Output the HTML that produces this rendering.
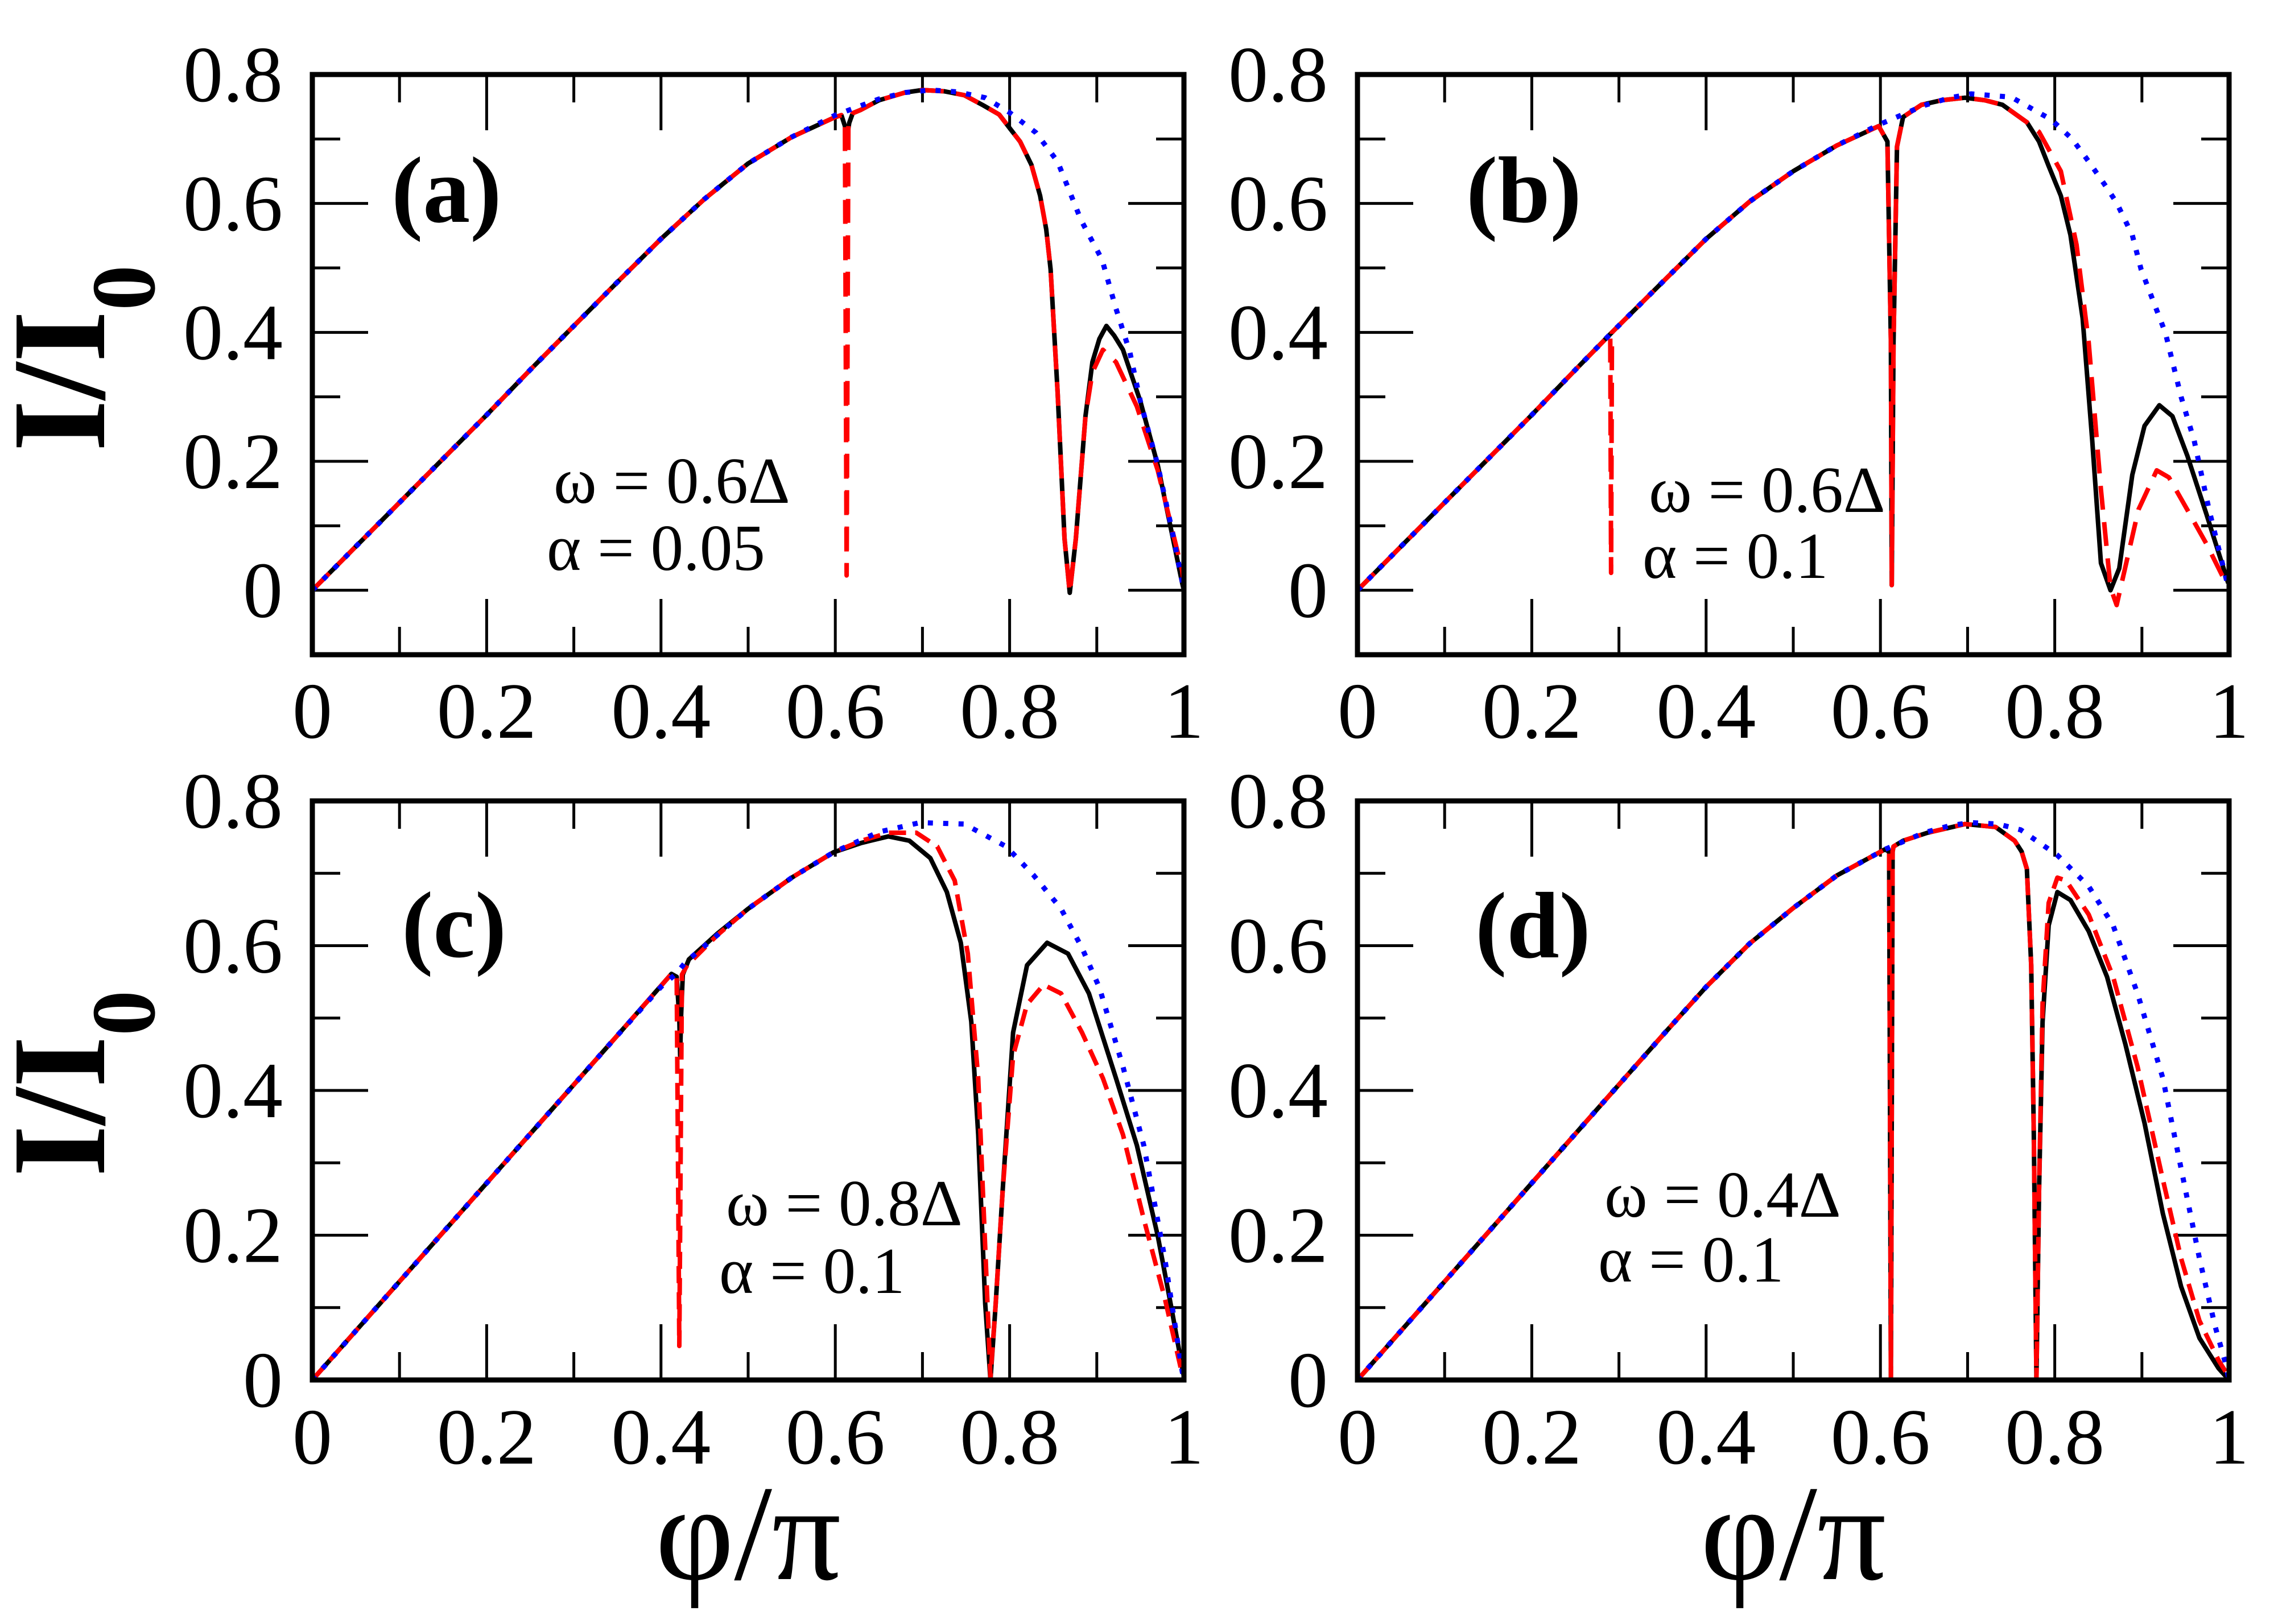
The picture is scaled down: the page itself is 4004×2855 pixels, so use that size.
<!DOCTYPE html>
<html><head><meta charset="utf-8"><style>
html,body{margin:0;padding:0;background:#fff;}
svg{display:block;}
text{font-family:"Liberation Serif","Times New Roman",serif;}
</style></head><body>
<svg id="fig" width="4004" height="2855" viewBox="0 0 4004 2855" xmlns="http://www.w3.org/2000/svg"></svg>
<script>
// ---------- data ----------
const xTickLabels = ["0","0.2","0.4","0.6","0.8","1"];
const xTickValues = [0,0.2,0.4,0.6,0.8,1];
const yTickLabels = ["0","0.2","0.4","0.6","0.8"];
const yTickValues = [0,0.2,0.4,0.6,0.8];

// panel (a)
const aBlueX = [0,0.05,0.1,0.15,0.2,0.25,0.3,0.35,0.4,0.45,0.5,0.55,0.6,0.65,0.68,0.709,0.74,0.772,0.8,0.83,0.855,0.882,0.906,0.922,0.938,0.95,0.97,0.986,1];
const aBlueY = [0,0.068,0.136,0.204,0.272,0.342,0.41,0.478,0.545,0.607,0.662,0.703,0.737,0.762,0.772,0.776,0.773,0.764,0.741,0.71,0.665,0.574,0.513,0.437,0.369,0.293,0.194,0.095,0];
const aBlackX = [0,0.05,0.1,0.15,0.2,0.25,0.3,0.35,0.4,0.45,0.5,0.55,0.6,0.607,0.611,0.613,0.616,0.62,0.629,0.65,0.68,0.7,0.725,0.748,0.77,0.788,0.812,0.825,0.835,0.842,0.847,0.855,0.863,0.869,0.876,0.887,0.895,0.903,0.911,0.92,0.93,0.95,0.97,0.998,1];
const aBlackY = [0,0.068,0.136,0.204,0.272,0.342,0.41,0.478,0.545,0.607,0.662,0.703,0.734,0.737,0.72,0.70,0.725,0.74,0.745,0.76,0.772,0.776,0.774,0.768,0.752,0.738,0.696,0.66,0.612,0.56,0.498,0.308,0.08,-0.004,0.08,0.27,0.354,0.39,0.41,0.395,0.373,0.293,0.194,0.011,0];
const aRedX = [0,0.05,0.1,0.15,0.2,0.25,0.3,0.35,0.4,0.45,0.5,0.55,0.6,0.607,0.611,0.613,0.615,0.62,0.629,0.65,0.68,0.7,0.725,0.748,0.77,0.788,0.812,0.825,0.835,0.842,0.847,0.855,0.863,0.869,0.876,0.887,0.895,0.907,0.922,0.946,0.97,0.998,1];
const aRedY = [0,0.068,0.136,0.204,0.272,0.342,0.41,0.478,0.545,0.607,0.662,0.703,0.734,0.737,0.72,0.023,0.725,0.74,0.745,0.76,0.772,0.776,0.774,0.768,0.752,0.738,0.696,0.66,0.612,0.56,0.498,0.308,0.08,-0.004,0.08,0.27,0.338,0.373,0.354,0.285,0.186,0.03,0.01];

// panel (b)
const bBlueX = [0,0.05,0.1,0.15,0.2,0.25,0.292,0.35,0.4,0.45,0.5,0.55,0.598,0.65,0.68,0.704,0.75,0.796,0.82,0.839,0.86,0.871,0.889,0.899,0.927,0.945,0.96,0.977,0.995,1];
const bBlueY = [0,0.068,0.136,0.204,0.272,0.342,0.4,0.478,0.545,0.603,0.65,0.69,0.722,0.752,0.764,0.77,0.765,0.73,0.7,0.665,0.624,0.601,0.551,0.498,0.399,0.3,0.232,0.125,0.027,0];
const bBlackX = [0,0.05,0.1,0.15,0.2,0.25,0.292,0.35,0.4,0.45,0.5,0.55,0.598,0.608,0.612,0.613,0.615,0.619,0.626,0.647,0.67,0.697,0.72,0.74,0.768,0.782,0.793,0.807,0.818,0.832,0.843,0.853,0.864,0.874,0.889,0.903,0.92,0.935,0.952,0.974,0.999];
const bBlackY = [0,0.068,0.136,0.204,0.272,0.342,0.4,0.478,0.545,0.603,0.65,0.69,0.72,0.696,0.384,0.008,0.384,0.688,0.734,0.753,0.76,0.764,0.76,0.753,0.726,0.696,0.658,0.612,0.551,0.422,0.232,0.042,0,0.034,0.179,0.255,0.287,0.27,0.209,0.118,0.011];
const bRedX = [0,0.05,0.1,0.15,0.2,0.25,0.29,0.291,0.292,0.35,0.4,0.45,0.5,0.55,0.598,0.608,0.612,0.613,0.615,0.619,0.626,0.647,0.67,0.697,0.72,0.74,0.768,0.782,0.807,0.825,0.839,0.853,0.864,0.871,0.882,0.896,0.917,0.931,0.952,0.974,0.995,1];
const bRedY = [0,0.068,0.136,0.204,0.272,0.342,0.397,0.027,0.4,0.478,0.545,0.603,0.65,0.69,0.72,0.696,0.384,0.008,0.384,0.688,0.734,0.753,0.76,0.764,0.76,0.753,0.726,0.711,0.65,0.536,0.384,0.156,0.004,-0.023,0.042,0.125,0.186,0.175,0.125,0.072,0.015,0.005];

// panel (c)
const cBlueX = [0,0.05,0.1,0.15,0.2,0.25,0.3,0.35,0.4,0.418,0.428,0.465,0.5,0.55,0.598,0.65,0.697,0.748,0.796,0.827,0.859,0.883,0.903,0.93,0.954,0.978,0.998,1];
const cBlueY = [0,0.068,0.136,0.204,0.272,0.34,0.408,0.476,0.543,0.562,0.577,0.615,0.651,0.694,0.729,0.757,0.77,0.768,0.737,0.698,0.651,0.597,0.542,0.433,0.324,0.168,0.012,0];
const cBlackX = [0,0.05,0.1,0.15,0.2,0.25,0.3,0.35,0.412,0.418,0.421,0.422,0.423,0.425,0.432,0.465,0.5,0.55,0.598,0.63,0.661,0.685,0.709,0.728,0.744,0.756,0.764,0.772,0.778,0.784,0.792,0.804,0.82,0.843,0.867,0.891,0.922,0.946,0.97,0.986,1];
const cBlackY = [0,0.068,0.136,0.204,0.272,0.34,0.408,0.476,0.561,0.557,0.5,0.448,0.5,0.56,0.581,0.617,0.651,0.694,0.729,0.742,0.751,0.745,0.721,0.674,0.604,0.495,0.339,0.105,0,0.105,0.261,0.48,0.573,0.604,0.589,0.534,0.417,0.324,0.199,0.097,0.004];
const cRedX = [0,0.05,0.1,0.15,0.2,0.25,0.3,0.35,0.412,0.418,0.421,0.424,0.43,0.465,0.5,0.55,0.598,0.63,0.661,0.693,0.717,0.737,0.752,0.764,0.772,0.778,0.784,0.792,0.804,0.82,0.839,0.859,0.883,0.907,0.93,0.954,0.978,0.998];
const cRedY = [0,0.068,0.136,0.204,0.272,0.34,0.408,0.476,0.561,0.557,0.047,0.56,0.573,0.615,0.651,0.694,0.729,0.745,0.756,0.756,0.737,0.69,0.589,0.417,0.183,0.004,0.105,0.261,0.448,0.519,0.546,0.534,0.48,0.417,0.339,0.222,0.113,0.008];

// panel (d)
const dBlueX = [0,0.05,0.1,0.15,0.2,0.25,0.3,0.35,0.4,0.45,0.5,0.55,0.605,0.65,0.68,0.704,0.735,0.761,0.803,0.839,0.867,0.895,0.924,0.945,0.966,0.984,0.995,1];
const dBlueY = [0,0.068,0.136,0.204,0.272,0.34,0.408,0.476,0.543,0.603,0.652,0.697,0.733,0.756,0.766,0.77,0.768,0.76,0.725,0.682,0.628,0.534,0.417,0.292,0.168,0.074,0.027,0];
const dBlackX = [0,0.05,0.1,0.15,0.2,0.25,0.3,0.35,0.4,0.45,0.5,0.55,0.605,0.61,0.612,0.614,0.615,0.626,0.654,0.697,0.732,0.754,0.762,0.768,0.773,0.776,0.779,0.782,0.786,0.793,0.803,0.818,0.839,0.86,0.881,0.903,0.924,0.945,0.966,0.988,1];
const dBlackY = [0,0.068,0.136,0.204,0.272,0.34,0.408,0.476,0.543,0.603,0.652,0.697,0.733,0.73,0,0.73,0.737,0.745,0.756,0.768,0.764,0.745,0.73,0.706,0.573,0.339,0,0.261,0.495,0.628,0.674,0.663,0.62,0.557,0.464,0.355,0.23,0.129,0.058,0.016,0];
const dRedX = [0,0.05,0.1,0.15,0.2,0.25,0.3,0.35,0.4,0.45,0.5,0.55,0.605,0.61,0.612,0.614,0.615,0.626,0.654,0.697,0.732,0.754,0.762,0.768,0.773,0.776,0.779,0.782,0.786,0.793,0.803,0.813,0.839,0.867,0.895,0.924,0.945,0.966,0.988,1];
const dRedY = [0,0.068,0.136,0.204,0.272,0.34,0.408,0.476,0.543,0.603,0.652,0.697,0.733,0.73,0,0.73,0.737,0.745,0.756,0.768,0.764,0.745,0.73,0.706,0.573,0.339,0,0.261,0.52,0.659,0.694,0.69,0.643,0.557,0.433,0.277,0.168,0.082,0.027,0.004];

// ---------- drawing ----------
const NS = "http://www.w3.org/2000/svg";
const svg = document.getElementById("fig");
const FF = '"Liberation Serif", "Times New Roman", serif';
function mk(tag, attrs, parent) {
  const e = document.createElementNS(NS, tag);
  for (const k in attrs) e.setAttribute(k, attrs[k]);
  if (tag === "text") e.setAttribute("font-family", FF);
  (parent || svg).appendChild(e);
  return e;
}

const panels = [
  {id:"a", left:549, top:131, bottom:1151, ymin:-0.1, ymax:0.8, xlabBase:1297,
   bx:aBlueX, by:aBlueY, kx:aBlackX, ky:aBlackY, rx:aRedX, ry:aRedY, redDash:"42 22",
   lab:[688,390], w:"ω = 0.6Δ", a:"α = 0.05", wpos:[973,884], apos:[961,1002]},
  {id:"b", left:2386, top:131, bottom:1151, ymin:-0.1, ymax:0.8, xlabBase:1297,
   bx:bBlueX, by:bBlueY, kx:bBlackX, ky:bBlackY, rx:bRedX, ry:bRedY, redDash:"42 22",
   lab:[2577,390], w:"ω = 0.6Δ", a:"α = 0.1", wpos:[2898,900], apos:[2887,1016]},
  {id:"c", left:549, top:1408, bottom:2426, ymin:0, ymax:0.8, xlabBase:2573,
   bx:cBlueX, by:cBlueY, kx:cBlackX, ky:cBlackY, rx:cRedX, ry:cRedY, redDash:"30 16",
   lab:[706,1682], w:"ω = 0.8Δ", a:"α = 0.1", wpos:[1276,2154], apos:[1264,2273]},
  {id:"d", left:2386, top:1408, bottom:2426, ymin:0, ymax:0.8, xlabBase:2573,
   bx:dBlueX, by:dBlueY, kx:dBlackX, ky:dBlackY, rx:dRedX, ry:dRedY, redDash:"30 16",
   lab:[2593,1683], w:"ω = 0.4Δ", a:"α = 0.1", wpos:[2820,2139], apos:[2809,2253]}
];
const W = 1532;

panels.forEach(p => {
  const g = mk("g", {});
  
  
  const sx = v => p.left + v * W;
  const sy = v => p.top + (p.ymax - v) / (p.ymax - p.ymin) * (p.bottom - p.top);
  const right = p.left + W;

  const cp = mk("clipPath", {id:"clip-" + p.id}, g);
  mk("rect", {x:p.left, y:p.top - 6, width:W, height:p.bottom - p.top + 12}, cp);

  const tg = mk("g", {stroke:"#000", "stroke-width":5, fill:"none"}, g);
  
  
  for (let i = 1; i < 10; i++) {
    const v = i / 10, len = (i % 2 === 0) ? 98 : 49, x = sx(v);
    mk("line", {x1:x, y1:p.bottom, x2:x, y2:p.bottom - len}, tg);
    mk("line", {x1:x, y1:p.top, x2:x, y2:p.top + len}, tg);
  }
  for (let i = 0; i < 8; i++) {
    const v = i / 10;
    if (v <= p.ymin + 1e-9) continue;
    const len = (i % 2 === 0) ? 98 : 49, y = sy(v);
    mk("line", {x1:p.left, y1:y, x2:p.left + len, y2:y}, tg);
    mk("line", {x1:right, y1:y, x2:right - len, y2:y}, tg);
  }

  const path = (xs, ys) => xs.map((x, i) => (i ? "L" : "M") + sx(x).toFixed(1) + "," + sy(ys[i]).toFixed(1)).join("");
  const cg = mk("g", {"clip-path":"url(#clip-" + p.id + ")", fill:"none", "stroke-linejoin":"round"}, g);
  const k = mk("path", {d:path(p.kx, p.ky), stroke:"#000", "stroke-width":8}, cg);
  
  
  const r = mk("path", {d:path(p.rx, p.ry), stroke:"#ff0000", "stroke-width":8, "stroke-dasharray":p.redDash}, cg);
  
  
  const b = mk("path", {d:path(p.bx, p.by), stroke:"#0000ff", "stroke-width":9, "stroke-dasharray":"9 18"}, cg);
  
  

  const fr = mk("rect", {x:p.left, y:p.top, width:W, height:p.bottom - p.top, fill:"none", stroke:"#000", "stroke-width":9}, g);
  
  

  xTickValues.forEach((v, i) => {
    const t = mk("text", {x:sx(v), y:p.xlabBase, "font-size":140, "text-anchor":"middle"}, g);
    
    
    t.textContent = xTickLabels[i];
  });
  yTickValues.forEach((v, i) => {
    const t = mk("text", {x:p.left - 52, y:sy(v) + 47, "font-size":140, "text-anchor":"end"}, g);
    
    
    t.textContent = yTickLabels[i];
  });

  const pl = mk("text", {x:p.lab[0], y:p.lab[1], "font-size":166, "font-weight":"bold"}, g);
  
  
  pl.textContent = "(" + p.id + ")";

  const t1 = mk("text", {x:p.wpos[0], y:p.wpos[1], "font-size":115}, g);
  
  
  t1.textContent = p.w;
  const t2 = mk("text", {x:p.apos[0], y:p.apos[1], "font-size":115}, g);
  
  
  t2.textContent = p.a;
});

[[183, 630], [183, 1905]].forEach(([x, y]) => {
  const t = mk("text", {x:x, y:y, "font-size":235, "font-weight":"bold", "text-anchor":"middle", transform:"rotate(-90 " + x + " " + y + ")"});
  
  
  t.appendChild(document.createTextNode("I/I"));
  const s = mk("tspan", {"font-size":160, dy:88}, t);
  s.textContent = "0";
});
[1315, 3152].forEach(x => {
  const t = mk("text", {x:x, y:2776, "font-size":240, "text-anchor":"middle"});
  
  
  t.textContent = "φ/π";
});
</script>
</body></html>
